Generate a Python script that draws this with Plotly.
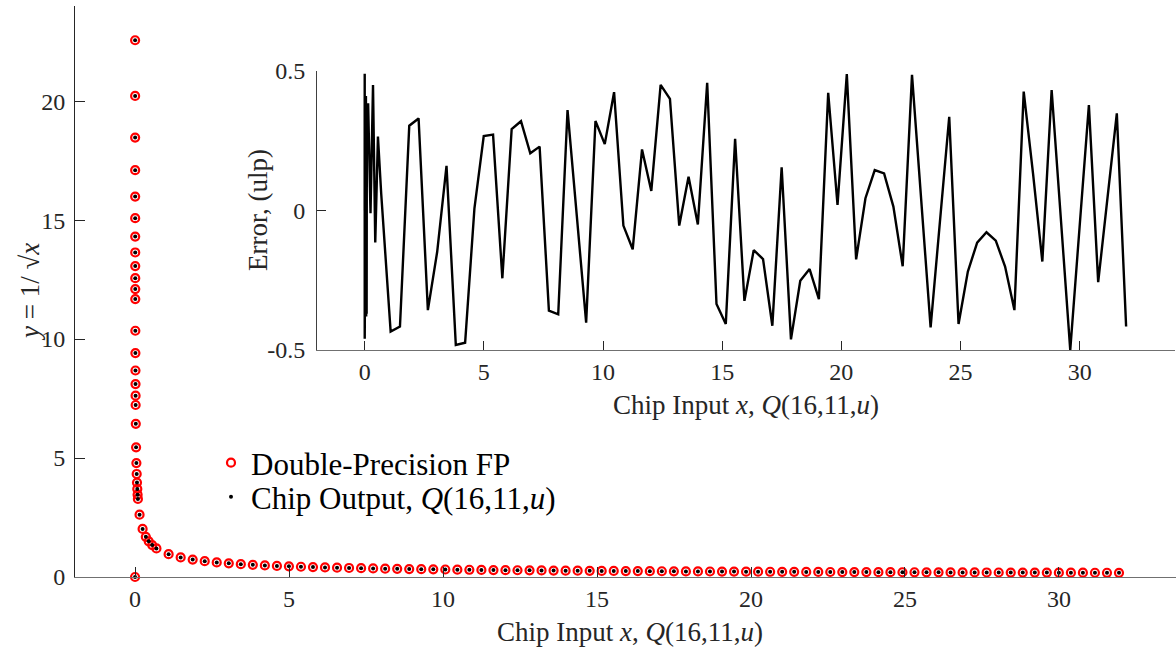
import plotly.graph_objects as go

# ---------------- data ----------------
# near-zero inputs (x = 0 first, then the small inputs)
x_near = [0.0,
          0.00195, 0.00244, 0.00293, 0.00342, 0.00391, 0.00440, 0.00488, 0.00537,
          0.00586, 0.00635, 0.00684, 0.00732,
          0.00928, 0.01123, 0.01318, 0.01514, 0.01709, 0.01904, 0.02393, 0.03369,
          0.04346, 0.05322, 0.06299, 0.07275, 0.08252, 0.09229,
          0.146, 0.245, 0.350, 0.444, 0.557, 0.694]
y_near = [0.0,
          22.56, 20.22, 18.47, 17.10, 15.99, 15.08, 14.31, 13.64,
          13.07, 12.56, 12.10, 11.68,
          10.35, 9.41, 8.68, 8.11, 7.62, 7.23, 6.44, 5.45,
          4.79, 4.33, 3.97, 3.70, 3.46, 3.28,
          2.62, 2.02, 1.69, 1.50, 1.34, 1.20]
err_near = [0.0,
            0.49, -0.46, 0.21, -0.33, 0.12, -0.25, 0.45, -0.41,
            0.05, 0.33, -0.12, 0.27,
            -0.38, 0.40, -0.22, 0.18, -0.44, 0.31, -0.07, 0.36,
            -0.30, 0.41, -0.38, 0.22, -0.37, 0.38,
            0.38, -0.01, 0.45, -0.115, 0.265, 0.06]

# evenly spaced inputs from ~1 to 32
x_tail = [1.090, 1.481, 1.871, 2.262, 2.652, 3.043, 3.434, 3.824, 4.215, 4.606,
          4.996, 5.387, 5.777, 6.168, 6.559, 6.949, 7.340, 7.730, 8.121, 8.512,
          8.902, 9.293, 9.684, 10.074, 10.465, 10.855, 11.246, 11.637, 12.027, 12.418,
          12.809, 13.199, 13.590, 13.980, 14.371, 14.762, 15.152, 15.543, 15.934, 16.324,
          16.715, 17.105, 17.496, 17.887, 18.277, 18.668, 19.059, 19.449, 19.840, 20.230,
          20.621, 21.012, 21.402, 21.793, 22.184, 22.574, 22.965, 23.355, 23.746, 24.137,
          24.527, 24.918, 25.309, 25.699, 26.090, 26.480, 26.871, 27.262, 27.652, 28.043,
          28.434, 28.824, 29.215, 29.605, 29.996, 30.387, 30.777, 31.168, 31.559, 31.949]
y_tail = [0.958, 0.822, 0.731, 0.665, 0.614, 0.573, 0.540, 0.511, 0.487, 0.466,
          0.447, 0.431, 0.416, 0.403, 0.390, 0.379, 0.369, 0.360, 0.351, 0.343,
          0.335, 0.328, 0.321, 0.315, 0.309, 0.304, 0.298, 0.293, 0.288, 0.284,
          0.279, 0.275, 0.271, 0.267, 0.264, 0.260, 0.257, 0.254, 0.251, 0.248,
          0.245, 0.242, 0.239, 0.236, 0.234, 0.231, 0.229, 0.227, 0.225, 0.222,
          0.220, 0.218, 0.216, 0.214, 0.212, 0.210, 0.209, 0.207, 0.205, 0.204,
          0.202, 0.200, 0.199, 0.197, 0.196, 0.194, 0.193, 0.192, 0.190, 0.189,
          0.188, 0.186, 0.185, 0.184, 0.183, 0.181, 0.180, 0.179, 0.178, 0.177]
err_tail = [-0.434, -0.416, 0.304, 0.330, -0.357, -0.148, 0.160, -0.482, -0.474, 0.008,
            0.267, 0.272, -0.243, 0.292, 0.320, 0.205, 0.229, -0.359, -0.372, 0.360,
            -0.020, -0.402, 0.321, 0.238, 0.424, -0.054, -0.139, 0.219, 0.070, 0.450,
            0.400, -0.054, 0.121, -0.050, 0.458, -0.335, -0.407, 0.257, -0.324, -0.142,
            -0.174, -0.413, 0.155, -0.462, -0.252, -0.210, -0.318, 0.422, 0.020, 0.489,
            -0.175, 0.044, 0.145, 0.133, 0.014, -0.200, 0.486, 0.033, -0.419, -0.040,
            0.336, -0.407, -0.219, -0.115, -0.078, -0.108, -0.201, -0.357, 0.426, 0.133,
            -0.183, 0.432, -0.034, -0.500, -0.060, 0.378, -0.257, 0.046, 0.348, -0.416]

chip_x = x_near + x_tail
fp_y = y_near + y_tail
chip_y = list(fp_y)          # chip output coincides with FP at plot resolution
err_y = err_near + err_tail

main_xticks = [0, 5, 10, 15, 20, 25, 30]
main_yticks = [0, 5, 10, 15, 20]
inset_yticks = [-0.5, 0, 0.5]
inset_yticktext = ["-0.5", "0", "0.5"]

FONT = "Liberation Serif"
TXT = "#262626"
W, H = 1176, 649

fig = go.Figure()
fig.add_trace(go.Scatter(
    x=chip_x, y=fp_y, mode="markers", name="Double-Precision FP", legend="legend",
    marker=dict(symbol="circle-open", size=8, color="#ff0000",
                line=dict(width=2.2, color="#ff0000")),
    cliponaxis=False, xaxis="x", yaxis="y"))
fig.add_trace(go.Scatter(
    x=chip_x, y=chip_y, mode="markers", name="Chip Output, <i>Q</i>(16,11,<i>u</i>)",
    legend="legend2",
    marker=dict(symbol="circle", size=4, color="#000000"),
    cliponaxis=False, xaxis="x", yaxis="y"))
fig.add_trace(go.Scatter(
    x=chip_x, y=err_y, mode="lines", showlegend=False,
    line=dict(color="#000000", width=2.4), xaxis="x2", yaxis="y2"))

axis_common = dict(showgrid=False, zeroline=False, showline=True, ticks="inside",
                   tickfont=dict(family=FONT, size=24, color=TXT), tickcolor="#262626",
                   mirror=False)

legend_common = dict(xanchor="left", yanchor="middle", bgcolor="rgba(0,0,0,0)",
                     font=dict(family=FONT, size=31, color="#000000"),
                     itemsizing="trace", borderwidth=0)

fig.update_layout(
    width=W, height=H,
    margin=dict(l=0, r=0, t=0, b=0, autoexpand=False),
    paper_bgcolor="white", plot_bgcolor="rgba(0,0,0,0)",
    font=dict(family=FONT, color=TXT),
    xaxis=dict(domain=[75 / W, 1.0], range=[-1.95, 33.8], tickvals=main_xticks,
               linecolor="#707070", ticklen=10, anchor="y", **axis_common),
    yaxis=dict(domain=[72 / H, 643 / H], range=[0, 24], tickvals=main_yticks,
               linecolor="#262626", ticklen=10, anchor="x", ticklabelstandoff=4,
               **axis_common),
    xaxis2=dict(domain=[317 / W, 1175 / W], range=[-2, 34], tickvals=main_xticks,
                linecolor="#707070", ticklen=9, anchor="y2", **axis_common),
    yaxis2=dict(domain=[299 / H, 578 / H], range=[-0.5, 0.5], tickvals=inset_yticks,
                ticktext=inset_yticktext, linecolor="#404040", ticklen=9, anchor="x2",
                ticklabelstandoff=6, **axis_common),
    legend=dict(x=211 / W, y=1 - 463 / H, **legend_common),
    legend2=dict(x=211 / W, y=1 - 497 / H, **legend_common),
    showlegend=True,
)

title_font = dict(family=FONT, size=27, color=TXT)
fig.add_annotation(text="Chip Input <i>x</i>, <i>Q</i>(16,11,<i>u</i>)",
                   x=630 / W, y=1 - 632 / H, xref="paper", yref="paper",
                   showarrow=False, font=title_font, xanchor="center", yanchor="middle")
fig.add_annotation(text="<i>y</i> = 1/ √<i>x</i>",
                   x=30 / W, y=1 - 292 / H, xref="paper", yref="paper", textangle=-90,
                   showarrow=False, font=title_font, xanchor="center", yanchor="middle")
fig.add_annotation(text="Chip Input <i>x</i>, <i>Q</i>(16,11,<i>u</i>)",
                   x=746 / W, y=1 - 405 / H, xref="paper", yref="paper",
                   showarrow=False, font=title_font, xanchor="center", yanchor="middle")
fig.add_annotation(text="Error, (ulp)",
                   x=258 / W, y=1 - 210 / H, xref="paper", yref="paper", textangle=-90,
                   showarrow=False, font=title_font, xanchor="center", yanchor="middle")

fig.write_html("out.html")
